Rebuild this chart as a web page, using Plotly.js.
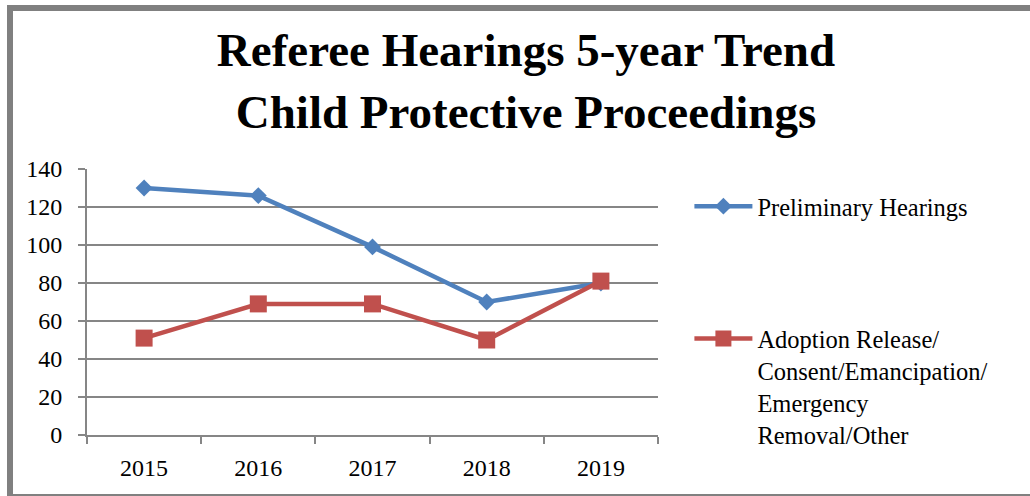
<!DOCTYPE html>
<html>
<head>
<meta charset="utf-8">
<script src="https://cdn.plot.ly/plotly-3.0.1.min.js"></script>
<style>html,body{margin:0;padding:0;background:#fff;}#chart{width:1030px;height:496px;}</style>
</head>
<body>
<div id="chart"></div>
<script>
const years = ['2015', '2016', '2017', '2018', '2019'];
const preliminaryHearings = [130, 126, 99, 70, 80];
const adoptionOther = [51, 69, 69, 50, 81];
const seriesNames = ['Preliminary Hearings', 'Adoption Release/<br>Consent/Emancipation/<br>Emergency<br>Removal/Other'];
const titleText = 'Referee Hearings 5-year Trend<br>Child Protective Proceedings';

const FONT = 'Liberation Serif';
const GRID = '#868686';

const traces = [
  {
    x: years, y: preliminaryHearings, name: seriesNames[0], type: 'scatter', mode: 'lines+markers',
    line: {color: '#4F81BD', width: 4.5},
    marker: {symbol: 'diamond', size: 13, color: '#4F81BD'},
    legend: 'legend'
  },
  {
    x: years, y: adoptionOther, name: seriesNames[1], type: 'scatter', mode: 'lines+markers',
    line: {color: '#C0504D', width: 4.5},
    marker: {symbol: 'square', size: 17, color: '#C0504D'},
    legend: 'legend2'
  }
];

const legendFont = {family: FONT, size: 24.5, color: '#000000'};

const layout = {
  width: 1030, height: 496,
  margin: {l: 87, r: 372, t: 169, b: 61},
  paper_bgcolor: '#ffffff', plot_bgcolor: '#ffffff',
  font: {family: FONT, color: '#000000', size: 24},
  title: {
    text: titleText,
    font: {family: FONT, size: 47, color: '#000000', weight: 'bold'},
    xref: 'container', x: 526 / 1030, xanchor: 'center',
    yref: 'container', y: 0.866, yanchor: 'top'
  },
  showlegend: true,
  legend: {
    x: 1.055, xanchor: 'left', y: 0.86, yanchor: 'middle',
    font: legendFont,
    bgcolor: 'rgba(0,0,0,0)', itemwidth: 58
  },
  legend2: {
    x: 1.055, xanchor: 'left', y: 0.447, yanchor: 'top', valign: 'top',
    font: legendFont,
    bgcolor: 'rgba(0,0,0,0)', itemwidth: 58
  },
  xaxis: {
    type: 'category', range: [-0.5, 4.5], tickson: 'boundaries',
    showgrid: false, showline: true, linecolor: GRID, linewidth: 2,
    ticks: 'outside', ticklen: 7, tickwidth: 2, tickcolor: GRID,
    ticklabelstandoff: 10,
    tickfont: {family: FONT, size: 24, color: '#000000'},
    zeroline: false, fixedrange: true
  },
  yaxis: {
    range: [0, 140], dtick: 20, tick0: 0,
    showgrid: true, gridcolor: GRID, gridwidth: 2,
    showline: true, linecolor: GRID, linewidth: 2,
    ticks: 'outside', ticklen: 7, tickwidth: 2, tickcolor: GRID,
    ticklabelstandoff: 11,
    tickfont: {family: FONT, size: 24, color: '#000000'},
    zeroline: false, fixedrange: true
  },
  shapes: [
    {type: 'rect', xref: 'paper', yref: 'paper',
     x0: (10 - 87) / 571, x1: (1200 - 87) / 571,
     y0: (435 - 497) / 266, y1: (435 - 8) / 266,
     line: {color: '#808080', width: 6}, fillcolor: 'rgba(0,0,0,0)', layer: 'below'}
  ]
};

Plotly.newPlot('chart', traces, layout, {displayModeBar: false, staticPlot: true});
</script>
</body>
</html>
